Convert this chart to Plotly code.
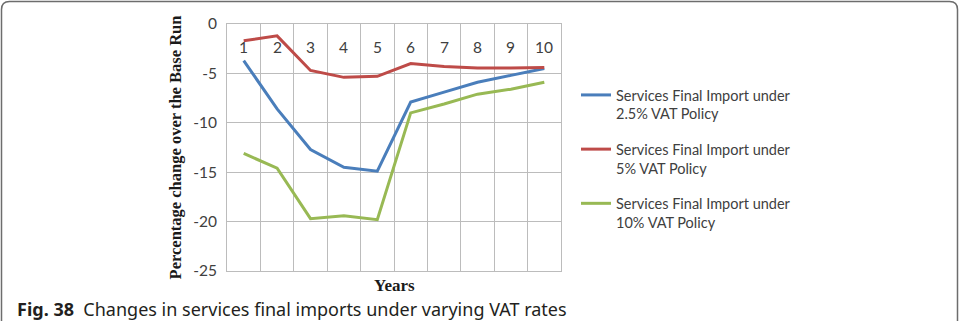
import plotly.graph_objects as go

# Simulation years (category axis)
years = ["1", "2", "3", "4", "5", "6", "7", "8", "9", "10"]

# Percentage change over the base run
vat_2_5 = [-3.7, -8.6, -12.7, -14.5, -14.9, -7.9, -6.9, -5.9, -5.2, -4.5]
vat_5 = [-1.7, -1.2, -4.7, -5.4, -5.3, -4.0, -4.3, -4.45, -4.45, -4.4]
vat_10 = [-13.1, -14.6, -19.7, -19.4, -19.8, -9.0, -8.1, -7.1, -6.6, -5.9]

series_names = [
    "Services Final Import under<br>2.5% VAT Policy",
    "Services Final Import under<br>5% VAT Policy",
    "Services Final Import under<br>10% VAT Policy",
]
series_colors = ["#4A7EBB", "#BE4B48", "#98B954"]

y_tickvals = [0, -5, -10, -15, -20, -25]
y_ticktext = ["0", "-5", "-10", "-15", "-20", "-25"]

W, H = 959, 321
L, R, T, B = 227, 398, 24, 50
PW, PH = W - L - R, H - T - B


def px(x):
    return (x - L) / PW


def py(y):
    return (H - B - y) / PH


fig = go.Figure()
for i, (name, vals, col) in enumerate(zip(series_names, [vat_2_5, vat_5, vat_10], series_colors)):
    fig.add_trace(go.Scatter(
        x=years, y=vals, name=name, mode="lines", legendgroup=f"g{i}",
        line=dict(color=col, width=3),
    ))

grid = "#BCBCBC"
text_col = "#404040"
fig.update_layout(
    width=W, height=H,
    margin=dict(l=L, r=R, t=T, b=B),
    paper_bgcolor="white", plot_bgcolor="white",
    font=dict(family="Lato", color=text_col),
    showlegend=True,
    legend=dict(
        x=px(576), y=py(79), xanchor="left", yanchor="top",
        font=dict(family="Lato", size=14.5, color=text_col),
        valign="top", tracegroupgap=13.5, bgcolor="rgba(0,0,0,0)",
    ),
    xaxis=dict(
        type="category", range=[-0.5, 9.5],
        tickson="boundaries", showgrid=True, gridcolor=grid, gridwidth=1,
        showline=True, linecolor=grid, mirror=True, ticks="",
        showticklabels=False, zeroline=False,
    ),
    yaxis=dict(
        range=[-25, 0], tickvals=y_tickvals, ticktext=y_ticktext,
        showgrid=True, gridcolor=grid, gridwidth=1, zeroline=False,
        showline=True, linecolor=grid, mirror=True, ticks="",
        ticklabelstandoff=6,
        tickfont=dict(family="Lato", size=15.5, color=text_col),
        title=dict(
            text="<b>Percentage change over the Base Run</b>",
            font=dict(family="Liberation Serif", size=16.5, color="#1a1a1a"),
            standoff=7,
        ),
    ),
)

# Year labels just beneath the zero line, inside the plot
# (annotation x on a category axis is the category's index)
for idx, yr in enumerate(years):
    fig.add_annotation(
        x=idx, y=py(47), xref="x", yref="paper", yanchor="middle",
        text=yr, showarrow=False,
        font=dict(family="Lato", size=15.5, color=text_col),
    )

# "Years" axis title below the plot area
fig.add_annotation(
    x=0.5, y=py(285), xref="paper", yref="paper", yanchor="middle",
    text="<b>Years</b>", showarrow=False,
    font=dict(family="Liberation Serif", size=17, color="#1a1a1a"),
)

# Figure caption
fig.add_annotation(
    x=px(15), y=py(309), xref="paper", yref="paper",
    xanchor="left", yanchor="middle", showarrow=False,
    text="<b>Fig. 38</b>  Changes in services final imports under varying VAT rates",
    font=dict(family="Noto Sans", size=18, color="#231f20"),
)

# Rounded frame around the figure, open at the bottom edge
x0, x1, y0, y1, r = 1.5, 957.5, 1.5, 330, 8
path = (
    f"M {px(x0)},{py(y1)} L {px(x0)},{py(y0 + r)} "
    f"Q {px(x0)},{py(y0)} {px(x0 + r)},{py(y0)} "
    f"L {px(x1 - r)},{py(y0)} "
    f"Q {px(x1)},{py(y0)} {px(x1)},{py(y0 + r)} "
    f"L {px(x1)},{py(y1)}"
)
fig.add_shape(type="path", path=path, xref="paper", yref="paper",
              line=dict(color="#6d6d6d", width=1.5))

fig.write_html("out.html")
